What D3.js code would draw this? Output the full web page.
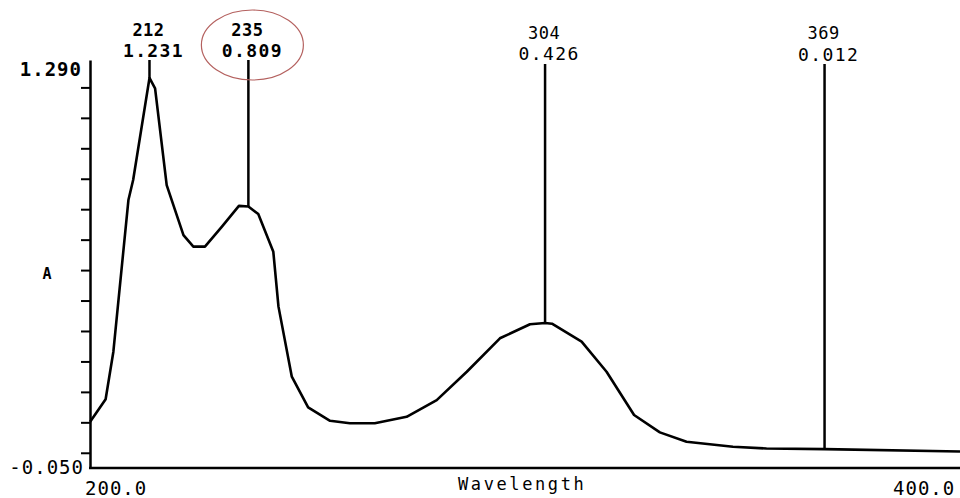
<!DOCTYPE html>
<html>
<head>
<meta charset="utf-8">
<script src="https://cdn.jsdelivr.net/npm/d3@7"></script>
<style>
  body { margin: 0; background: #fff; }
  svg { display: block; }
  text { font-family: "DejaVu Sans Mono", "Liberation Mono", monospace; fill: #000; }
</style>
</head>
<body>
<svg id="chart" width="960" height="498"></svg>
<script>
// spectrum (wavelength nm, absorbance)
const wavelengths = [198.2, 201.8, 203.6, 207.1, 208.2, 212, 213.3, 216.0, 219.9, 222.2, 224.9, 228.8, 232.8, 235,
  237.3, 240.8, 242.0, 245.1, 248.9, 254.0, 258.6, 264.4, 271.8, 278.8, 285.8, 293.5, 300.5, 304, 305.6,
  312.5, 318.3, 324.7, 330.7, 336.9, 347.7, 355.5, 369, 400.5];
const absorbance = [0.102, 0.176, 0.332, 0.830, 0.896, 1.231, 1.197, 0.879, 0.715, 0.677, 0.677, 0.742, 0.811, 0.809,
  0.784, 0.660, 0.480, 0.250, 0.149, 0.105, 0.097, 0.097, 0.118, 0.173, 0.266, 0.376, 0.422, 0.426, 0.424,
  0.365, 0.266, 0.124, 0.067, 0.036, 0.020, 0.014, 0.012, 0.004];

const peakNm = [212, 235, 304, 369];
const peakAbs = [1.231, 0.809, 0.426, 0.012];
const peakNmLabels = ["212", "235", "304", "369"];
const peakAbsLabels = ["1.231", "0.809", "0.426", "0.012"];

const yTicks = [0, 0.1, 0.2, 0.3, 0.4, 0.5, 0.6, 0.7, 0.8, 0.9, 1.0, 1.1, 1.2];
const yEndLabels = ["1.290", "-0.050"];
const xEndLabels = ["200.0", "400.0"];

const svg = d3.select('#chart');

const x = d3.scaleLinear().domain([197.7, 400.5]).range([88, 960]);
const y = d3.scaleLinear().domain([-0.05, 1.29]).range([468, 60]);

const spectrum = wavelengths.map((w, i) => ({ w: w, a: absorbance[i] }));

// y axis
svg.append('g')
  .attr('transform', 'translate(90,0)')
  .call(d3.axisLeft(y).tickValues(yTicks).tickFormat('').tickSize(9).tickSizeOuter(0))
  .call(g => g.selectAll('path, line').attr('stroke', '#000').attr('stroke-width', 2))
  .call(g => g.select('.domain').attr('stroke-width', 2.5));

// x axis
svg.append('g')
  .attr('transform', 'translate(0,468)')
  .call(d3.axisBottom(x).tickValues([]).tickSizeOuter(0))
  .call(g => g.select('.domain').attr('stroke', '#000').attr('stroke-width', 2.5)
    .attr('d', 'M89,0H960'));

svg.append('text').attr('x', 82).attr('y', 76).attr('text-anchor', 'end')
  .style('font-size', '19px').style('font-weight', 'bold').style('letter-spacing', '1px')
  .text(yEndLabels[0]);
svg.append('text').attr('x', 84).attr('y', 474).attr('text-anchor', 'end')
  .style('font-size', '19px').style('letter-spacing', '1px')
  .text(yEndLabels[1]);

svg.append('text').attr('x', 85).attr('y', 495)
  .style('font-size', '19px').style('letter-spacing', '1px')
  .text(xEndLabels[0]);
svg.append('text').attr('x', 893).attr('y', 495)
  .style('font-size', '19px').style('letter-spacing', '1px')
  .text(xEndLabels[1]);

svg.append('text').attr('x', 458).attr('y', 490)
  .style('font-size', '17px').style('letter-spacing', '2.6px')
  .text('Wavelength');

svg.append('text').attr('x', 47).attr('y', 279).attr('text-anchor', 'middle')
  .style('font-size', '15px').style('font-weight', 'bold')
  .text('A');

// spectrum line
svg.append('path')
  .datum(spectrum)
  .attr('d', d3.line().x(d => x(d.w)).y(d => y(d.a)))
  .attr('fill', 'none')
  .attr('stroke', '#000')
  .attr('stroke-width', 2.6)
  .attr('stroke-linejoin', 'round');

// peak markers
const peaks = peakNm.map((w, i) => ({ w: w, a: peakAbs[i], nm: peakNmLabels[i], ab: peakAbsLabels[i] }));
const peakTop = [60, 60, 64, 64];
const nmBase = [36, 36, 39, 39];
const abBase = [57, 57, 60, 61];
const bold = [true, true, false, false];

const pk = svg.append('g').selectAll('g').data(peaks).join('g');
pk.append('line')
  .attr('x1', d => x(d.w)).attr('x2', d => x(d.w))
  .attr('y1', (d, i) => peakTop[i]).attr('y2', d => y(d.a))
  .attr('stroke', '#000').attr('stroke-width', 2.5);
pk.append('text')
  .attr('x', d => x(d.w) - 1).attr('y', (d, i) => nmBase[i])
  .attr('text-anchor', 'middle')
  .style('font-size', '17px').style('letter-spacing', '0.5px')
  .style('font-weight', (d, i) => bold[i] ? 'bold' : 'normal')
  .text(d => d.nm);
pk.append('text')
  .attr('x', d => x(d.w) + 4).attr('y', (d, i) => abBase[i])
  .attr('text-anchor', 'middle')
  .style('font-size', '18px').style('letter-spacing', '1.4px')
  .style('font-weight', (d, i) => bold[i] ? 'bold' : 'normal')
  .text(d => d.ab);

// red ring drawn around the 235 label
svg.append('ellipse')
  .attr('cx', x(235) + 4).attr('cy', 45)
  .attr('rx', 51).attr('ry', 35)
  .attr('fill', 'none')
  .attr('stroke', '#b4615f')
  .attr('stroke-width', 1.2);
</script>
</body>
</html>
